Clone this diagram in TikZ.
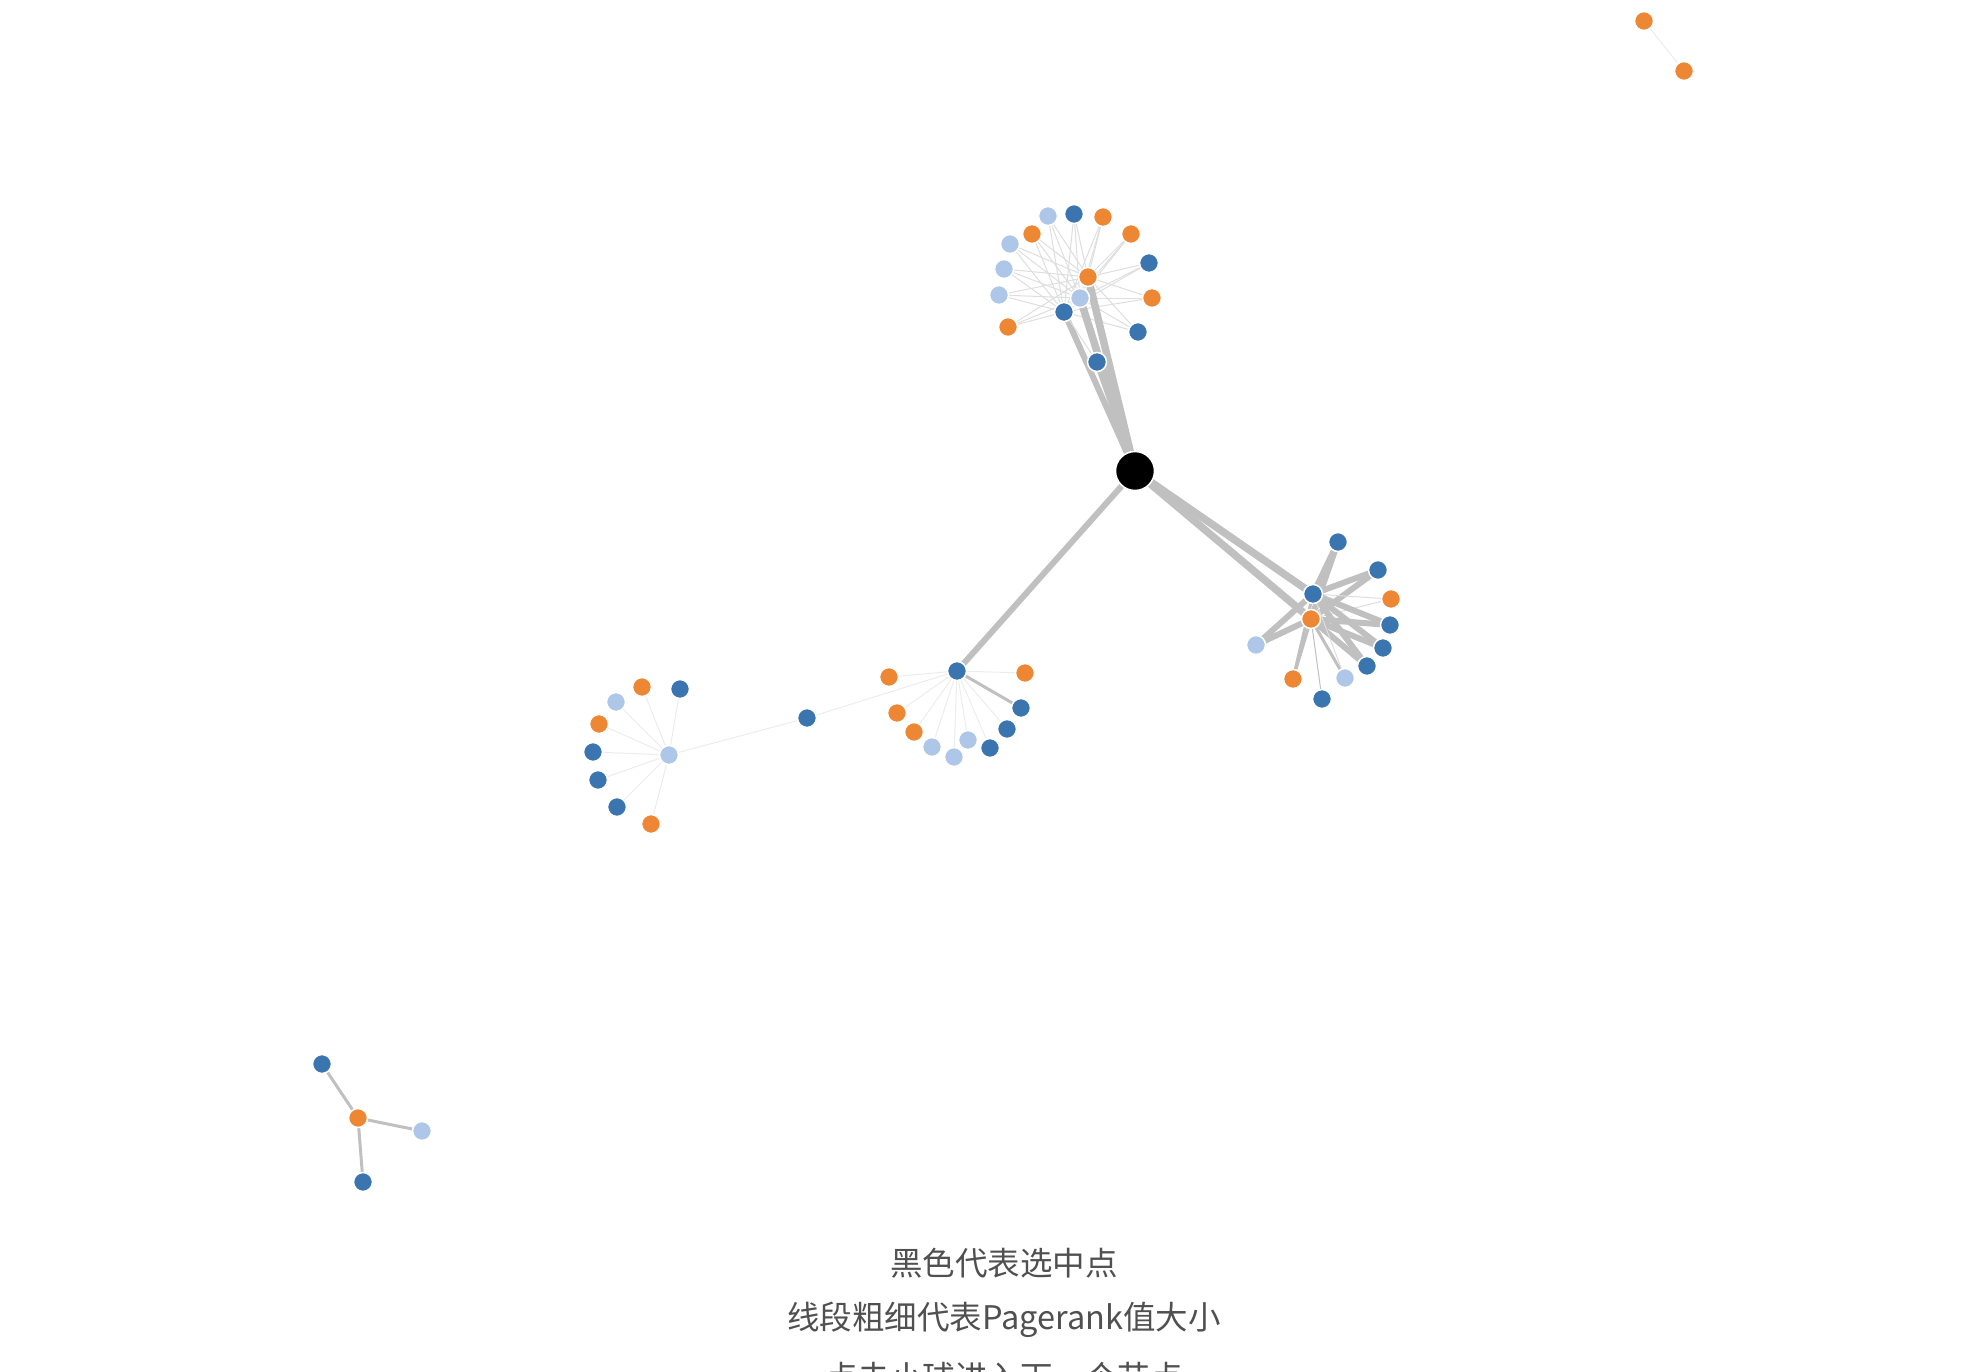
\documentclass[tikz,border=0pt]{standalone}
\usepackage{fontspec}
\newfontfamily\cjk{Noto Sans CJK SC}
\definecolor{cblue}{RGB}{58,117,175}
\definecolor{corange}{RGB}{238,135,52}
\definecolor{clight}{RGB}{174,199,232}
\definecolor{cedge}{RGB}{192,192,192}
\definecolor{cthin}{RGB}{222,222,222}
\definecolor{cfaint}{RGB}{236,236,236}
\definecolor{ctext}{RGB}{80,80,80}
\tikzset{
  dot/.style={circle,draw=white,line width=1.5pt,minimum size=19pt,inner sep=0pt},
  bd/.style={dot,fill=cblue},
  od/.style={dot,fill=corange},
  ld/.style={dot,fill=clight},
  sel/.style={circle,fill=black,draw=white,line width=1.5pt,minimum size=39pt,inner sep=0pt},
  thin/.style={draw=cthin,line width=1pt},
  faint/.style={draw=cfaint,line width=1pt},
  med/.style={draw=cedge,line width=3pt},
  thick/.style={draw=cedge,line width=6pt},
  thicker/.style={draw=cedge,line width=7.5pt},
  caption/.style={font=\cjk\fontsize{32.5}{32.5}\selectfont,text=ctext,inner sep=0pt}
}
\begin{document}
\begin{tikzpicture}[x=1pt,y=-1pt]
\useasboundingbox (0,0) rectangle (1988,1372);
\clip (0,0) rectangle (1988,1372);
% ---------- nodes (coordinates) ----------
\coordinate (S) at (1135,471);
% top cluster
\coordinate (To) at (1088,277);
\coordinate (Tl) at (1080,298);
\coordinate (Tb) at (1064,312);
\coordinate (t1) at (1048,216);
\coordinate (t2) at (1074,214);
\coordinate (t3) at (1103,217);
\coordinate (t4) at (1131,234);
\coordinate (t5) at (1032,234);
\coordinate (t6) at (1010,244);
\coordinate (t7) at (1149,263);
\coordinate (t8) at (1004,269);
\coordinate (t9) at (1152,298);
\coordinate (t10) at (999,295);
\coordinate (t11) at (1008,327);
\coordinate (t12) at (1138,332);
\coordinate (t13) at (1097,362);
% right cluster
\coordinate (Rb) at (1313,594);
\coordinate (Ro) at (1311,619);
\coordinate (r1) at (1338,542);
\coordinate (r2) at (1378,570);
\coordinate (r3) at (1391,599);
\coordinate (r4) at (1390,625);
\coordinate (r5) at (1256,645);
\coordinate (r6) at (1383,648);
\coordinate (r7) at (1367,666);
\coordinate (r8) at (1293,679);
\coordinate (r9) at (1345,678);
\coordinate (r10) at (1322,699);
% middle cluster
\coordinate (M) at (957,671);
\coordinate (m1) at (889,677);
\coordinate (m2) at (1025,673);
\coordinate (m3) at (1021,708);
\coordinate (m4) at (897,713);
\coordinate (m5) at (914,732);
\coordinate (m6) at (1007,729);
\coordinate (m7) at (968,740);
\coordinate (m8) at (932,747);
\coordinate (m9) at (990,748);
\coordinate (m10) at (954,757);
% bridge
\coordinate (C) at (807,718);
% left cluster
\coordinate (L) at (669,755);
\coordinate (l1) at (642,687);
\coordinate (l2) at (680,689);
\coordinate (l3) at (616,702);
\coordinate (l4) at (599,724);
\coordinate (l5) at (593,752);
\coordinate (l6) at (598,780);
\coordinate (l7) at (617,807);
\coordinate (l8) at (651,824);
% bottom-left
\coordinate (B) at (358,1118);
\coordinate (b1) at (322,1064);
\coordinate (b2) at (422,1131);
\coordinate (b3) at (363,1182);
% top-right
\coordinate (p1) at (1644,21);
\coordinate (p2) at (1684,71);
% ---------- edges ----------
\foreach \p in {t1,t2,t3,t4,t5,t6,t7,t8,t9,t10,t11,t12}{
  \draw[thin] (\p) -- (To);
  \draw[thin] (\p) -- (Tl);
  \draw[thin] (\p) -- (Tb);
}
\draw[thick] (S) -- (Tb);
\draw[thicker] (S) -- (Tl);
\draw[thicker] (S) -- (To);
\draw[thick] (S) -- (t13);
\draw[thin] (Tb) -- (t13);
% right cluster
\draw[thicker] (S) -- (Rb);
\draw[thicker] (S) -- (Ro);
\draw[thick] (Rb) -- (r1);
\draw[thick] (Ro) -- (r1);
\draw[thick] (Rb) -- (r2);
\draw[thick] (Ro) -- (r2);
\draw[thin] (Rb) -- (r3);
\draw[thin] (Ro) -- (r3);
\draw[thick] (Rb) -- (r4);
\draw[thick] (Ro) -- (r4);
\draw[thick] (Rb) -- (r5);
\draw[thick] (Ro) -- (r5);
\draw[thick] (Rb) -- (r6);
\draw[thick] (Ro) -- (r6);
\draw[thick] (Rb) -- (r7);
\draw[thick] (Ro) -- (r7);
\draw[med] (Ro) -- (r8);
\draw[med] (Rb) -- (r8);
\draw[med] (Ro) -- (r9);
\draw[thin] (Rb) -- (r9);
\draw[draw=cedge,line width=1pt] (Ro) -- (r10);
% middle cluster
\draw[thick] (S) -- (M);
\foreach \p in {m1,m2,m4,m5,m6,m7,m8,m9,m10}{\draw[faint] (M) -- (\p);}
\draw[med] (M) -- (m3);
\draw[faint] (M) -- (C);
% left cluster
\draw[faint] (C) -- (L);
\foreach \p in {l1,l2,l3,l4,l5,l6,l7,l8}{\draw[faint] (L) -- (\p);}
% bottom-left
\draw[med] (B) -- (b1);
\draw[med] (B) -- (b2);
\draw[med] (B) -- (b3);
% top-right
\draw[faint] (p1) -- (p2);
% ---------- node drawing ----------
\node[sel] (nS) at (S) {};
\node[ld] (n1) at (t1) {};
\node[bd] (n2) at (t2) {};
\node[od] (n3) at (t3) {};
\node[od] (n4) at (t4) {};
\node[od] (n5) at (t5) {};
\node[ld] (n6) at (t6) {};
\node[bd] (n7) at (t7) {};
\node[ld] (n8) at (t8) {};
\node[od] (n9) at (t9) {};
\node[ld] (n10) at (t10) {};
\node[od] (n11) at (t11) {};
\node[bd] (n12) at (t12) {};
\node[bd] (n13) at (t13) {};
\node[od] (nTo) at (To) {};
\node[ld] (nTl) at (Tl) {};
\node[bd] (nTb) at (Tb) {};
\node[bd] (nr1) at (r1) {};
\node[bd] (nr2) at (r2) {};
\node[od] (nr3) at (r3) {};
\node[bd] (nr4) at (r4) {};
\node[ld] (nr5) at (r5) {};
\node[bd] (nr6) at (r6) {};
\node[bd] (nr7) at (r7) {};
\node[od] (nr8) at (r8) {};
\node[ld] (nr9) at (r9) {};
\node[bd] (nr10) at (r10) {};
\node[bd] (nRb) at (Rb) {};
\node[od] (nRo) at (Ro) {};
\node[bd] (nM) at (M) {};
\node[od] (nm1) at (m1) {};
\node[od] (nm2) at (m2) {};
\node[bd] (nm3) at (m3) {};
\node[od] (nm4) at (m4) {};
\node[od] (nm5) at (m5) {};
\node[bd] (nm6) at (m6) {};
\node[ld] (nm7) at (m7) {};
\node[ld] (nm8) at (m8) {};
\node[bd] (nm9) at (m9) {};
\node[ld] (nm10) at (m10) {};
\node[bd] (nC) at (C) {};
\node[ld] (nL) at (L) {};
\node[od] (nl1) at (l1) {};
\node[bd] (nl2) at (l2) {};
\node[ld] (nl3) at (l3) {};
\node[od] (nl4) at (l4) {};
\node[bd] (nl5) at (l5) {};
\node[bd] (nl6) at (l6) {};
\node[bd] (nl7) at (l7) {};
\node[od] (nl8) at (l8) {};
\node[od] (nB) at (B) {};
\node[bd] (nb1) at (b1) {};
\node[ld] (nb2) at (b2) {};
\node[bd] (nb3) at (b3) {};
\node[od] (np1) at (p1) {};
\node[od] (np2) at (p2) {};
% ---------- captions ----------
\node[caption] (cap1) at (1004,1263) {黑色代表选中点};
\node[caption] (cap2) at (1004,1320) {线段粗细代表Pagerank值大小};
\node[caption] (cap3) at (1004,1377) {点击小球进入下一个节点};
\end{tikzpicture}
\end{document}
